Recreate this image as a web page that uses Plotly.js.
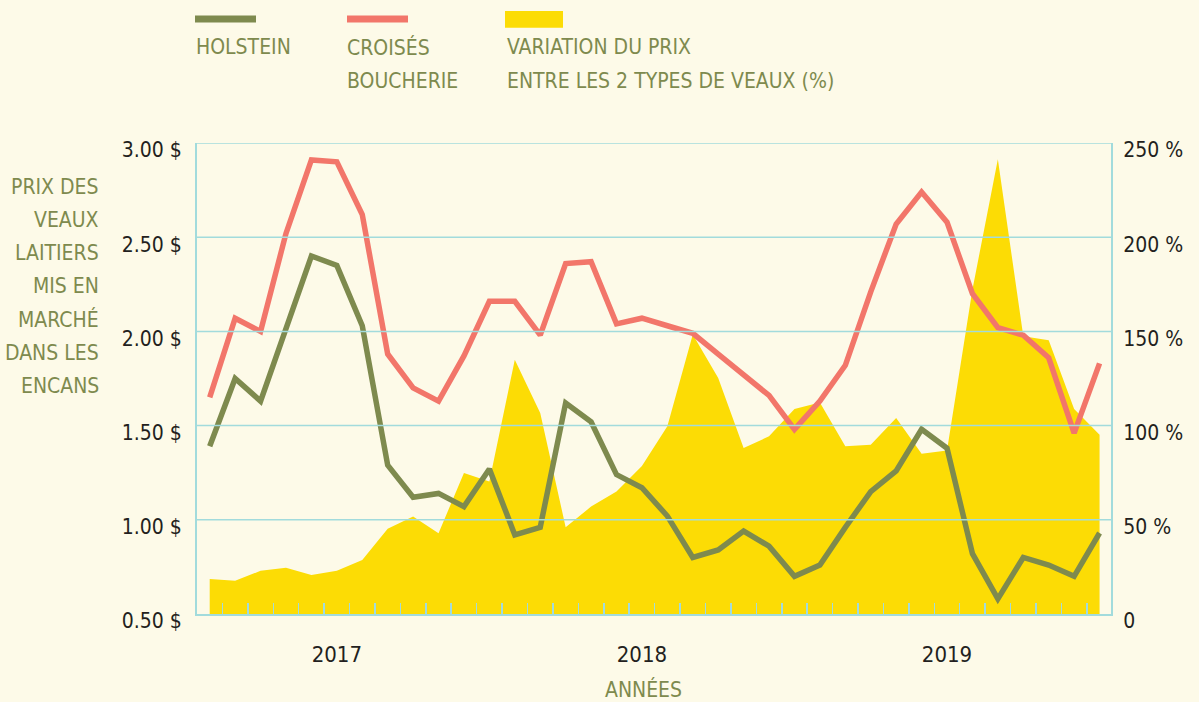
<!DOCTYPE html>
<html>
<head>
<meta charset="utf-8">
<script src="https://cdn.plot.ly/plotly-3.0.1.min.js"></script>
<style>
  html, body { margin: 0; padding: 0; background: #FDFAE8; }
  #chart { width: 1199px; height: 702px; }
</style>
</head>
<body>
<div id="chart"></div>
<script>
// ---- Data ----
const months = [
  '2016-08','2016-09','2016-10','2016-11','2016-12',
  '2017-01','2017-02','2017-03','2017-04','2017-05','2017-06','2017-07','2017-08','2017-09','2017-10','2017-11','2017-12',
  '2018-01','2018-02','2018-03','2018-04','2018-05','2018-06','2018-07','2018-08','2018-09','2018-10','2018-11','2018-12',
  '2019-01','2019-02','2019-03','2019-04','2019-05','2019-06','2019-07'
];
const holstein = [1.39,1.75,1.63,2.01,2.40,2.35,2.03,1.29,1.12,1.14,1.07,1.27,0.92,0.96,1.62,1.52,1.24,1.17,1.02,0.80,0.84,0.94,0.86,0.70,0.76,0.96,1.15,1.26,1.48,1.38,0.82,0.58,0.80,0.76,0.70,0.93];
const croises = [1.65,2.07,2.00,2.52,2.91,2.90,2.62,1.88,1.70,1.63,1.87,2.16,2.16,1.98,2.36,2.37,2.04,2.07,2.03,1.99,1.88,1.77,1.66,1.48,1.63,1.82,2.21,2.57,2.74,2.58,2.20,2.02,1.98,1.86,1.46,1.83];
const variation = [18.6,17.7,22.9,24.6,20.7,22.9,28.7,45.2,51.7,42.9,74.8,70.3,135,106.7,46.1,57.0,65.0,78.5,99.6,148.3,125.3,88.1,94.3,108.8,112.3,89.0,89.8,104.0,85.1,86.8,172.2,241.4,147.4,145.3,108.8,95.2];
const yearLabels = ['2017','2018','2019'];
const priceTicks = [0.5,1.0,1.5,2.0,2.5,3.0];
const priceTickText = ['0.50 $','1.00 $','1.50 $','2.00 $','2.50 $','3.00 $'];
const pctTicks = [0,50,100,150,200,250];
const pctTickText = ['0','50 %','100 %','150 %','200 %','250 %'];
const legendNames = ['HOLSTEIN', ['CROISÉS','BOUCHERIE'], ['VARIATION DU PRIX','ENTRE LES 2 TYPES DE VEAUX (%)']];
const yTitleLines = ['PRIX DES','VEAUX','LAITIERS','MIS EN','MARCHÉ','DANS LES','ENCANS'];
const xTitle = 'ANNÉES';

// ---- Styles ----
const BG = '#FDFAE8';
const OLIVE = '#7E8A4E';
const RED = '#F2766A';
const YELLOW = '#FCDC05';
const GRID = '#A2DBDC';
const DARK = '#231F20';
const FONT = '"DejaVu Sans Condensed", "Liberation Sans Narrow", sans-serif';

const W = 1199, H = 702;
const M = {l: 197, r: 88, t: 143, b: 88};
const PW = W - M.l - M.r, PH = H - M.t - M.b;
const px2x = px => (px - M.l) / PW;
const px2y = py => (M.t + PH - py) / PH;

const xIdx = months.map((m, i) => i);
const yearIdx = yearLabels.map(y => months.indexOf(y + '-01'));
const boundaries = months.slice(1).map((m, i) => i + 0.5);

// base axis y = percent (right), overlay y2 = price (left) so the lines sit above the area
const traces = [
  {x: xIdx, y: variation, yaxis: 'y', type: 'scatter', mode: 'lines', fill: 'tozeroy',
   fillcolor: YELLOW, line: {width: 0, color: YELLOW}, hoverinfo: 'skip', showlegend: false},
  {x: xIdx, y: croises, yaxis: 'y2', type: 'scatter', mode: 'lines',
   line: {color: RED, width: 5.5}, showlegend: false},
  {x: xIdx, y: holstein, yaxis: 'y2', type: 'scatter', mode: 'lines',
   line: {color: OLIVE, width: 5.5}, showlegend: false}
];

const shapes = [];
priceTicks.slice(1).forEach(v => shapes.push({type: 'line', xref: 'paper', yref: 'y2', x0: 0, x1: 1, y0: v, y1: v,
  line: {color: GRID, width: 1.5}, layer: 'above'}));
// legend swatches
shapes.push({type: 'line', xref: 'paper', yref: 'paper', x0: px2x(195), x1: px2x(256), y0: px2y(19), y1: px2y(19),
  line: {color: OLIVE, width: 7}});
shapes.push({type: 'line', xref: 'paper', yref: 'paper', x0: px2x(347), x1: px2x(408), y0: px2y(19), y1: px2y(19),
  line: {color: RED, width: 7}});
shapes.push({type: 'rect', xref: 'paper', yref: 'paper', x0: px2x(505), x1: px2x(563), y0: px2y(27.7), y1: px2y(11),
  line: {width: 0}, fillcolor: YELLOW});

const annotations = [];
const legFont = {family: FONT, size: 21, color: OLIVE};
const addText = (text, px, py, xanchor, font) => annotations.push({text, xref: 'paper', yref: 'paper',
  x: px2x(px), y: px2y(py), xanchor, yanchor: 'middle', showarrow: false, font, align: xanchor});
addText(legendNames[0], 194, 47.5, 'left', legFont);
addText(legendNames[1][0], 345, 47.5, 'left', legFont);
addText(legendNames[1][1], 345, 81, 'left', legFont);
addText(legendNames[2][0], 505, 47.5, 'left', legFont);
addText(legendNames[2][1], 505, 81, 'left', legFont);
yTitleLines.forEach((t, i) => addText(t, 101, 186.7 + i * 33.2, 'right', legFont));
addText(xTitle, 643.5, 689, 'center', legFont);

const layout = {
  width: W, height: H,
  margin: M,
  paper_bgcolor: BG, plot_bgcolor: BG,
  showlegend: false,
  xaxis: {
    range: [-0.5, 35.45], tickmode: 'array', tickvals: yearIdx, ticktext: yearLabels,
    ticks: '', showgrid: false, zeroline: false,
    showline: true, linecolor: GRID, linewidth: 2,
    tickfont: {family: FONT, size: 22, color: DARK},
    ticklabelstandoff: 20,
    minor: {tickmode: 'array', tickvals: boundaries, ticks: 'inside', ticklen: 11, tickwidth: 1.5, tickcolor: GRID, showgrid: false}
  },
  yaxis: {
    range: [0, 250], side: 'right', tickmode: 'array', tickvals: pctTicks, ticktext: pctTickText,
    ticks: '', showgrid: false, zeroline: false,
    showline: true, linecolor: GRID, linewidth: 2,
    tickfont: {family: FONT, size: 21, color: DARK},
    ticklabelstandoff: 6, ticklabelshift: 7
  },
  yaxis2: {
    range: [0.5, 3.0], overlaying: 'y', side: 'left', tickmode: 'array', tickvals: priceTicks, ticktext: priceTickText,
    ticks: '', showgrid: false, zeroline: false,
    showline: true, linecolor: GRID, linewidth: 2,
    tickfont: {family: FONT, size: 21, color: DARK},
    ticklabelstandoff: 9, ticklabelshift: 7
  },
  shapes, annotations,
  hovermode: false
};

Plotly.newPlot('chart', traces, layout, {displayModeBar: false, staticPlot: true});
</script>
</body>
</html>
